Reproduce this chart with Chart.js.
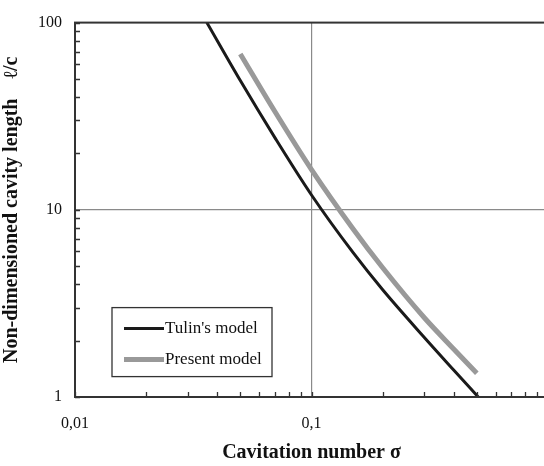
<!DOCTYPE html>
<html>
<head>
<meta charset="utf-8">
<script src="https://cdn.jsdelivr.net/npm/chart.js@4/dist/chart.umd.min.js"></script>
<style>
html,body{margin:0;padding:0;background:#fff;overflow:hidden;width:544px;height:466px;}
#c{display:block;}
</style>
</head>
<body>
<canvas id="c" width="560" height="466"></canvas>
<script>
// ---- data ----
const tulinSigma = [0.0361, 0.05, 0.07, 0.1, 0.15, 0.2, 0.3, 0.4, 0.507];
const tulinLength = [100, 49, 24.3, 12.0, 5.9, 3.74, 2.08, 1.39, 1.0];
const presentSigma = [0.05, 0.07, 0.1, 0.15, 0.2, 0.3, 0.4, 0.5];
const presentLength = [68, 33.5, 16.4, 7.9, 4.9, 2.65, 1.8, 1.34];
const seriesNames = ["Tulin's model", "Present model"];
const xTickValues = [0.01,0.02,0.03,0.04,0.05,0.06,0.07,0.08,0.09,0.1,0.2,0.3,0.4,0.5,0.6,0.7,0.8,0.9,1];
const xTickLabels = {"0.01":"0,01","0.1":"0,1","1":"1"};
const yTickValues = [1,2,3,4,5,6,7,8,9,10,20,30,40,50,60,70,80,90,100];
const yTickLabels = {"1":"1","10":"10","100":"100"};
const xTitle = "Cavitation number σ";
const yTitle = "Non-dimensioned cavity length    ℓ/c";

const serif = "'Liberation Serif', 'DejaVu Serif', serif";

function toPts(xs, ys){ return xs.map((x,i)=>({x:x, y:ys[i]})); }

const frameAndTicks = {
  id:'frameAndTicks',
  afterDatasetsDraw(chart){
    const ctx = chart.ctx, a = chart.chartArea;
    const xs = chart.scales.x, ys = chart.scales.y;
    ctx.save();
    ctx.strokeStyle = '#333';
    ctx.lineWidth = 1.3;
    ctx.beginPath();
    xTickValues.forEach(v=>{
      const p = Math.round(xs.getPixelForValue(v))+0.5;
      ctx.moveTo(p, a.bottom); ctx.lineTo(p, a.bottom-5);
    });
    yTickValues.forEach(v=>{
      const p = Math.round(ys.getPixelForValue(v))+0.5;
      ctx.moveTo(a.left, p); ctx.lineTo(a.left+5, p);
    });
    ctx.stroke();
    ctx.lineWidth = 2;
    ctx.strokeRect(a.left, a.top, a.right-a.left, a.bottom-a.top);
    // legend box
    const bx = a.left+37, by = a.top+285, bw = 160, bh = 69;
    ctx.fillStyle = '#fff';
    ctx.fillRect(bx, by, bw, bh);
    ctx.lineWidth = 1.3;
    ctx.strokeStyle = '#333';
    ctx.strokeRect(bx, by, bw, bh);
    chart.data.datasets.forEach((ds,i)=>{
      const yy = by + 21 + i*31;
      ctx.strokeStyle = ds.borderColor;
      ctx.lineWidth = ds.borderWidth;
      ctx.beginPath();
      ctx.moveTo(bx+12, yy); ctx.lineTo(bx+52, yy);
      ctx.stroke();
      ctx.fillStyle = '#111';
      ctx.font = "17px " + serif;
      ctx.textBaseline = 'middle';
      ctx.textAlign = 'left';
      ctx.fillText(ds.label, bx+53, yy);
    });
    ctx.restore();
  }
};

new Chart(document.getElementById('c'), {
  type:'line',
  data:{
    datasets:[
      {label:seriesNames[0], data:toPts(tulinSigma, tulinLength), borderColor:'#1a1a1a', borderWidth:3, pointRadius:0, cubicInterpolationMode:'monotone', fill:false},
      {label:seriesNames[1], data:toPts(presentSigma, presentLength), borderColor:'#999999', borderWidth:5, pointRadius:0, cubicInterpolationMode:'monotone', fill:false}
    ]
  },
  options:{
    responsive:false,
    animation:false,
    layout:{padding:{top:14, right:12, left:0, bottom:0}},
    plugins:{legend:{display:false}, tooltip:{enabled:false}},
    scales:{
      x:{
        type:'logarithmic', min:0.01, max:1,
        afterBuildTicks(s){ s.ticks = xTickValues.map(v=>({value:v})); },
        afterFit(s){ s.height = 69; s.paddingRight = 0; },
        ticks:{
          autoSkip:false, maxRotation:0, padding:17, color:'#111',
          font:{family:serif, size:16},
          callback:(v)=> xTickLabels[String(+v.toPrecision(3))] || ''
        },
        grid:{
          drawTicks:false,
          color:(c)=> (c.tick && Math.abs(c.tick.value-0.1)<1e-9) ? '#8a8a8a' : 'rgba(0,0,0,0)',
          lineWidth:1.2
        },
        border:{display:true, color:'#333', width:2},
        title:{display:true, text:xTitle, color:'#111', font:{family:serif, size:20, weight:'bold'}, padding:{top:0, bottom:1}}
      },
      y:{
        type:'logarithmic', min:1, max:100,
        afterBuildTicks(s){ s.ticks = yTickValues.map(v=>({value:v})); },
        afterFit(s){ s.width = 75; },
        ticks:{
          autoSkip:false, padding:13, color:'#111',
          font:{family:serif, size:16},
          callback:(v)=> yTickLabels[String(+v.toPrecision(3))] || ''
        },
        grid:{
          drawTicks:false,
          color:(c)=> (c.tick && Math.abs(c.tick.value-10)<1e-9) ? '#8a8a8a' : 'rgba(0,0,0,0)',
          lineWidth:1.2
        },
        border:{display:true, color:'#333', width:2},
        title:{display:true, text:yTitle, color:'#111', font:{family:serif, size:20, weight:'bold'}, padding:{top:0, bottom:0}}
      }
    }
  },
  plugins:[frameAndTicks]
});
</script>
</body>
</html>
